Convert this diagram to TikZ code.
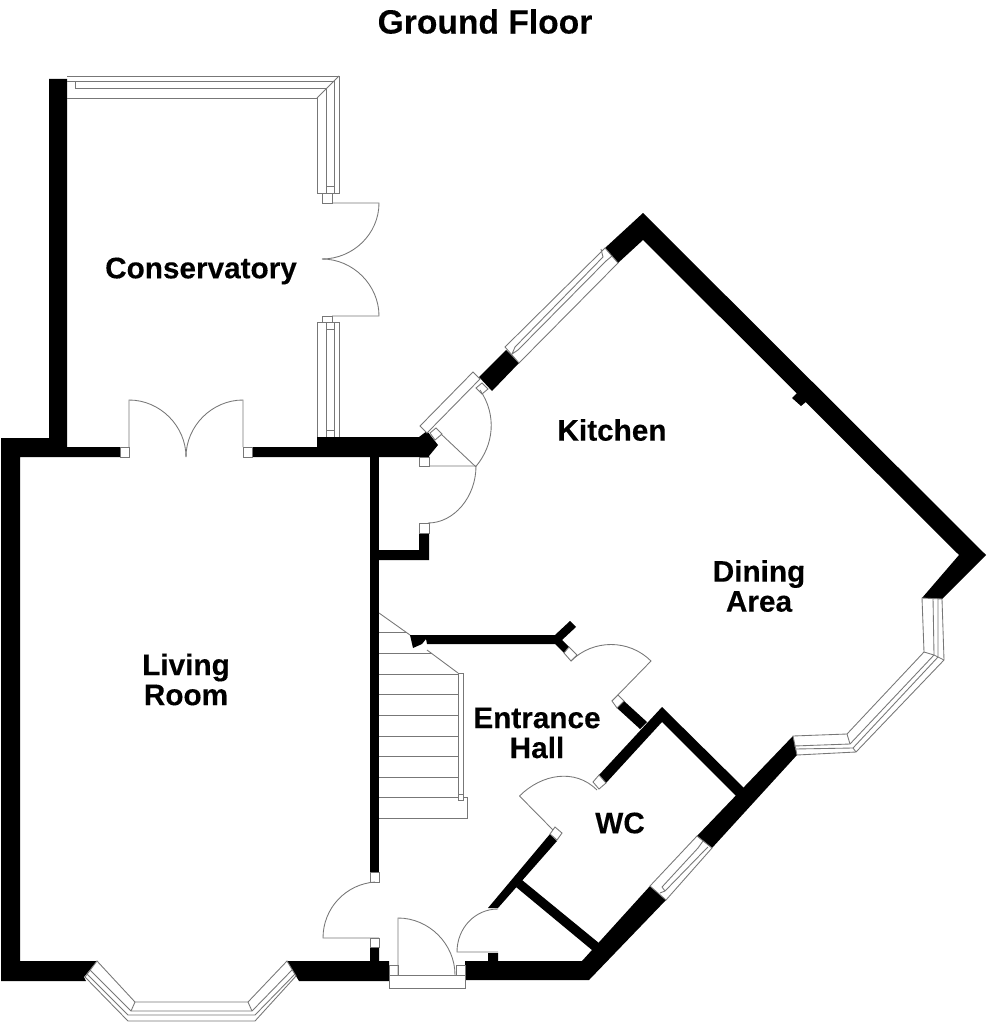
\documentclass[tikz,border=0pt]{standalone}
\usepackage{fontspec}
\setmainfont[BoldFeatures={FakeBold=0.25}]{Liberation Sans}
\definecolor{linegray}{HTML}{777777}
\tikzset{
  wall/.style={fill=black,draw=none},
  thin/.style={draw=linegray,line width=0.65pt,line join=miter},
  jamb/.style={fill=white,draw=linegray,line width=0.65pt},
  room/.style={font=\fontsize{22.3}{22.5}\selectfont\bfseries,align=center,inner sep=0pt,text=black},
  headline/.style={font=\fontsize{25.2}{26}\selectfont\bfseries,inner sep=0pt,text=black}
}
\begin{document}
\begin{tikzpicture}[x=0.75pt,y=-0.75pt]
\useasboundingbox (0,0) rectangle (992,1024);
% walls
\fill[wall] (1,438)--(49,438)--(49,79)--(67,79)--(67,447)--(120,447)--(120,457)--(20,457)--(20,961)--(97,961)--(84,977)--(86,981)--(1,981)--cycle;
\fill[wall] (287,961)--(370,961)--(370,947)--(379,947)--(379,961)--(389,961)--(389,981)--(299,981)--(296,976)--cycle;
\fill[wall] (465,961)--(488,961)--(488,953)--(498,953)--(498,961)--(582,961)--(650,886)--(666,900)--(589,980)--(465,980)--cycle;
\fill[wall] (697,836)--(793,736)--(797,755)--(712,848)--cycle;
\fill[wall] (599,775)--(662,707)--(746,790)--(737,797)--(662,722)--(606,783)--cycle;
\fill[wall] (624,701)--(647,722)--(640,729)--(617,708)--cycle;
\fill[wall] (550,834)--(557,841)--(498,908)--(488,908)--cycle;
\fill[wall] (522,880)--(605,948)--(598,955)--(516,887)--cycle;
\fill[wall] (605,248)--(643,213)--(986,555)--(942,599)--(922,598)--(959,555)--(643,240)--(618,263)--cycle;
\fill[wall] (506,350)--(519,363)--(492,391)--(479,377)--cycle;
\fill[wall] (317,437)--(419,437)--(427,431)--(438,445)--(429,456)--(429,457)--(252,457)--(252,447)--(317,447)--cycle;
\fill[wall] (370,457)--(379,457)--(379,872)--(370,872)--cycle;
\fill[wall] (379,550)--(419,550)--(419,533)--(429,533)--(429,560)--(379,560)--cycle;
\fill[wall] (410,635)--(555,635)--(570,621)--(576,627)--(562,640)--(569,647)--(564,653)--(555,644)--(427,644)--(426,639)--(422,644)--(413,648)--cycle;
\fill[wall] (792,398)--(798,392)--(807,401)--(801,406)--cycle;
% conservatory windows
\draw[thin] (67,76)--(339,76)--(339,193)--(317,193)--(317,98)--(67,98);
\draw[thin] (67,81.5)--(334,81.5)--(334,186);
\draw[thin] (75,88.5)--(326,88.5)--(326,186);
\draw[thin] (75,81.5)--(75,88.5);
\draw[thin] (339,76)--(317,98);
\draw[thin] (326,186) rectangle (334,193);
\draw[jamb] (322,193) rectangle (332,203);
\draw[thin] (332,203)--(379,203) .. controls (379,234) and (353,259) .. (322,259);
\draw[thin] (332,316)--(379,316) .. controls (379,285) and (353,259) .. (322,259);
\draw[jamb] (322,316) rectangle (332,322);
\draw[thin] (317,437)--(317,322)--(339,322)--(339,437);
\draw[thin] (326.5,329)--(326.5,437);
\draw[thin] (334.5,329)--(334.5,437);
\draw[thin] (326.5,322) rectangle (334.5,329);
\draw[thin] (326.5,430)--(334.5,430);
% french doors to living room
\draw[jamb] (120,447) rectangle (129,457);
\draw[jamb] (243,447) rectangle (252,457);
\draw[thin] (129,447)--(129,400) .. controls (160,400) and (186,426) .. (186,457);
\draw[thin] (243,447)--(243,400) .. controls (212,400) and (186,426) .. (186,457);
% kitchen doors
\draw[jamb] (419,457) rectangle (429,466);
\draw[thin] (429,466)--(476,466) .. controls (476,497) and (454,523) .. (428,523);
\draw[jamb] (419,523) rectangle (429,533);
\draw[jamb] (420,426)--(473,372)--(480,379)--(427,433)--cycle;
\draw[jamb] (436,428)--(442,434)--(435,440)--(430,433)--cycle;
\draw[jamb] (476,388)--(482,383)--(488,389)--(482,394)--cycle;
\draw[thin] (441,434)--(475.7,466.7) .. controls (494,445) and (497,415) .. (480,390);
% kitchen window
\draw[jamb] (505,347)--(605,248)--(618,263)--(519,363)--cycle;
\draw[thin] (515,347)--(603,257);
\draw[thin] (518,350)--(606,261);
\draw[thin] (515,347)--(512,354)--(518,350);
\draw[thin] (603,257)--(601,249);
\draw[thin] (606,261)--(612,256);
% dining window
\draw[jamb] (922,598)--(924,652)--(847,734)--(793,736)--(797,755)--(856,752)--(944,660)--(942,599)--cycle;
\draw[thin] (933,598)--(934,655)--(850,744)--(794,746);
\draw[thin] (938,598)--(938,657)--(853,748)--(795,749);
\draw[thin] (944,660)--(934,655);
\draw[thin] (924,652)--(934,655);
\draw[thin] (847,734)--(850,744);
\draw[thin] (856,752)--(853,748);
% stairs
\draw[thin] (379,613)--(410,635);
\draw[thin] (427,650)--(458,673);
\draw[thin] (379,632)--(407,632);
\draw[thin] (379,653)--(432,653);
\draw[thin] (379,674)--(458,674);
\draw[thin] (379,694)--(458,694);
\draw[thin] (379,715)--(458,715);
\draw[thin] (379,736)--(458,736);
\draw[thin] (379,756)--(458,756);
\draw[thin] (379,777)--(458,777);
\draw[thin] (379,797)--(467,797)--(467,818)--(379,818);
\draw[thin] (458,673)--(458,794);
\draw[thin] (463,673)--(463,794);
\draw[thin] (458,673)--(463,673);
\draw[jamb] (458,794) rectangle (463,800);
% hall door to dining
\draw[jamb] (569,647)--(577,655)--(571,661)--(564,653)--cycle;
\draw[thin] (571,661) .. controls (593,639) and (629,639) .. (651,661)--(612,701);
\draw[jamb] (618,695)--(624,701)--(617,708)--(612,701)--cycle;
% wc door
\draw[jamb] (593,782)--(599,775)--(606,783)--(599,789)--cycle;
\draw[thin] (519.5,796) .. controls (541.5,774) and (575,768) .. (597,790);
\draw[thin] (519.5,796)--(555,832);
\draw[jamb] (555,827)--(562,833)--(557,840)--(550,834)--cycle;
% wc window
\draw[jamb] (697,836)--(712,848)--(666,900)--(650,886)--cycle;
\draw[thin] (662,887)--(698,848);
\draw[thin] (665,891)--(703,852);
\draw[thin] (662,887)--(665,891);
\draw[thin] (698,848)--(703,841);
\draw[thin] (703,852)--(708,847);
\draw[thin] (660,893)--(665,891);
% cupboard door
\draw[thin] (498,952)--(457,952) .. controls (457,928) and (475,909) .. (498,909);
% hall door to living room
\draw[jamb] (370,872) rectangle (379,882);
\draw[thin] (375,882) .. controls (346,884) and (323,908) .. (323,938)--(379,938);
\draw[jamb] (370,938) rectangle (379,947);
% front door
\draw[jamb] (389,975) rectangle (465,988);
\draw[jamb] (389,965) rectangle (398,975);
\draw[jamb] (456,965) rectangle (465,975);
\draw[thin] (398,975)--(398,918) .. controls (429,918) and (455,944) .. (455,975);
% living room bay
\draw[jamb] (97,961)--(135,1002)--(248,1002)--(287,961)--(296,976)--(255,1021)--(128,1021)--(85,977)--cycle;
\draw[thin] (90,970)--(131,1011)--(252,1011)--(292,970);
\draw[thin] (87,974)--(128,1015)--(255,1015)--(295,974);
\draw[thin] (135,1002)--(131,1011);
\draw[thin] (248,1002)--(252,1011);
% texts
\node[headline] (title) at (485,21.5) {Ground Floor};
\node[room] (cons) at (201,271) {Conservatory};
\node[room] (kitchen) at (612,430) {Kitchen};
\node[room] (dining) at (759,586) {Dining\\Area};
\node[room] (living) at (186,679.5) {Living\\Room};
\node[room] (hall) at (537,733) {Entrance\\Hall};
\node[room] (wc) at (620,823) {WC};
\end{tikzpicture}
\end{document}
